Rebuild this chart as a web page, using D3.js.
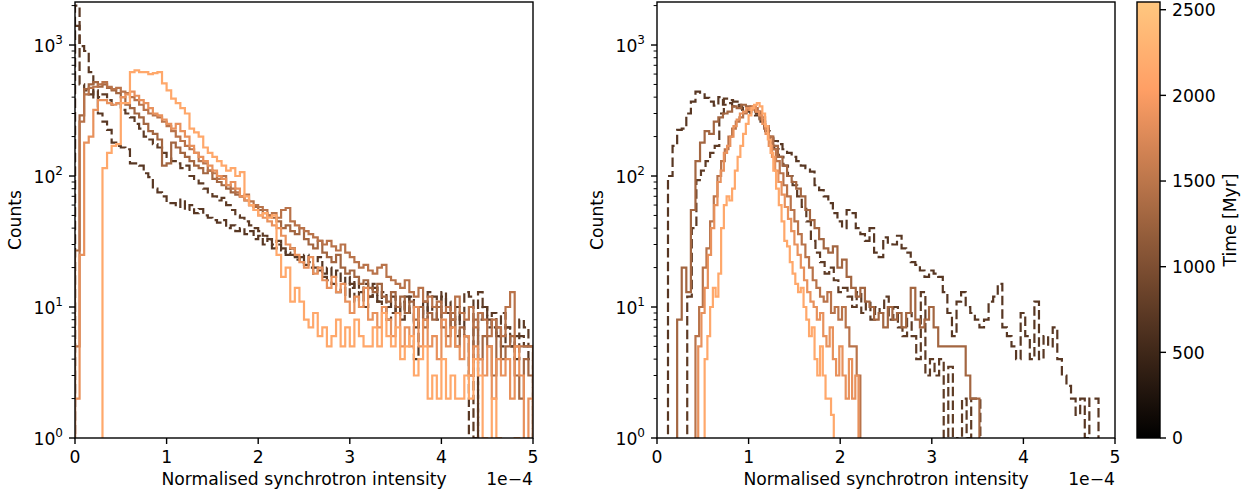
<!DOCTYPE html>
<html>
<head>
<meta charset="utf-8">
<script src="https://cdn.jsdelivr.net/npm/d3@7"></script>
<style>
  body { margin: 0; background: #fff; }
  text { font-family: "DejaVu Sans", sans-serif; fill: #000; }
</style>
</head>
<body>
<svg id="fig" width="1255" height="497"></svg>
<script>
// Intensities are given in units of 1e-4 (the axis shows the offset "1e−4").
const xTicks = [0, 1, 2, 3, 4, 5];
const yTickExps = [0, 1, 2, 3];
const cbarTicks = [0, 500, 1000, 1500, 2000, 2500];
const timeMax = 2545;          // colour-bar upper limit [Myr]
const countMax = 2130;         // upper y limit

// ---------- left panel: all series binned from 0 with width 0.05 ----------
const leftStart = 0;
const leftWidth = 0.05;
const leftTimes  = [700, 750, 1300, 1475, 1850, 2150];
const leftDashed = [true, true, false, false, false, false];

const leftA = [2000, 980, 900, 620, 390, 300, 260, 225, 180, 170,
  165, 160, 125, 125, 120, 105, 98, 80, 75, 70,
  62, 62, 58, 66, 55, 60, 52, 56, 50, 48,
  46, 44, 46, 40, 42, 38, 40, 36, 38, 33,
  35, 30, 33, 28, 30, 27, 25, 28, 24, 22,
  25, 22, 20, 24, 18, 20, 17, 19, 15, 17,
  14, 16, 13, 15, 12, 14, 11, 13, 10, 12,
  9, 11, 9, 12, 4, 8, 11, 9, 10, 8,
  12, 9, 7, 10, 8, 6, 0, 1, 8, 10,
  7, 9, 6, 5, 7, 5, 4, 6, 5, 4];

const leftB = [1400, 500, 450, 420, 450, 400, 420, 380, 350, 360,
  320, 300, 280, 250, 230, 200, 190, 175, 165, 150,
  140, 130, 125, 115, 120, 100, 95, 88, 80, 75,
  70, 65, 68, 60, 55, 50, 48, 45, 42, 40,
  38, 35, 33, 30, 32, 28, 26, 25, 23, 24,
  21, 20, 18, 19, 17, 16, 15, 13, 14, 12,
  15, 11, 13, 10, 12, 15, 11, 10, 8, 9,
  10, 8, 12, 9, 7, 10, 8, 13, 12, 10,
  13, 11, 8, 6, 9, 13, 12, 1, 13, 10,
  8, 7, 6, 9, 7, 5, 6, 8, 7, 5];

const leftC = [27, 290, 460, 500, 520, 480, 500, 470, 450, 430,
  400, 350, 330, 300, 280, 250, 220, 210, 190, 120,
  125, 180, 165, 150, 140, 130, 120, 115, 105, 110,
  95, 90, 85, 80, 75, 72, 70, 65, 60, 58,
  55, 52, 50, 48, 45, 40, 42, 38, 36, 40,
  33, 30, 28, 32, 26, 24, 22, 25, 20, 18,
  19, 17, 15, 16, 14, 13, 15, 12, 11, 13,
  10, 12, 9, 11, 8, 10, 7, 9, 8, 10,
  7, 6, 9, 5, 7, 6, 3, 8, 4, 6,
  5, 3, 7, 4, 5, 6, 3, 2, 4, 3];

const leftD = [5, 260, 420, 470, 480, 500, 520, 480, 460, 470,
  440, 430, 400, 380, 350, 320, 300, 290, 280, 260,
  240, 220, 200, 185, 170, 160, 150, 130, 125, 110,
  105, 95, 100, 85, 80, 75, 70, 72, 64, 60,
  58, 55, 50, 52, 48, 55, 57, 45, 42, 40,
  38, 36, 34, 32, 30, 32, 29, 27, 30, 26,
  24, 22, 20, 21, 19, 18, 20, 21, 17, 16,
  15, 14, 16, 13, 12, 14, 11, 12, 10, 11,
  9, 10, 8, 12, 9, 8, 10, 7, 9, 8,
  6, 8, 7, 6, 10, 13, 5, 5, 5, 5];

const leftE = [2, 25, 180, 200, 320, 380, 380, 360, 350, 360,
  400, 420, 440, 410, 380, 360, 330, 300, 290, 270,
  250, 230, 250, 220, 200, 170, 150, 140, 130, 120,
  110, 100, 95, 85, 90, 80, 70, 65, 60, 55,
  50, 48, 45, 42, 40, 35, 30, 28, 25, 22,
  20, 24, 18, 20, 16, 14, 17, 13, 15, 11,
  9, 12, 10, 14, 8, 9, 7, 10, 8, 6,
  9, 5, 7, 5, 10, 5, 8, 5, 6, 4,
  8, 5, 7, 5, 4, 6, 3, 5, 4, 3,
  5, 2, 4, 3, 4, 2, 5, 3, 0, 2];

const leftF = [0, 0, 0, 0, 0, 0, 115, 150, 170, 175,
  360, 360, 620, 640, 620, 620, 600, 610, 620, 510,
  450, 390, 360, 330, 300, 230, 215, 200, 165, 150,
  140, 130, 120, 110, 115, 100, 107, 70, 60, 55,
  50, 52, 48, 50, 25, 17, 20, 11, 14, 11,
  8, 7, 9, 6, 7, 5, 6, 8, 5, 7,
  5, 8, 6, 5, 5, 7, 5, 9, 6, 5,
  7, 4, 5, 6, 3, 4, 5, 2, 3, 2,
  4, 2, 3, 2, 2, 3, 2, 4, 3, 1,
  0, 2, 1, 0, 0, 0, 1, 0, 0, 0];

// ---------- right panel: each series has its own bin range ----------
const rightTimes  = [700, 750, 1300, 1475, 1850, 2150];
const rightDashed = [true, true, false, false, false, false];
const rightStarts = [0.12, 0.33, 0.22, 0.42, 0.45, 0.52];
const rightWidths = [0.05, 0.05, 0.05, 0.04, 0.035, 0.03];

const rightA = [100, 170, 225, 230, 300, 370, 440, 420, 395, 370,
  345, 400, 350, 360, 340, 350, 330, 320, 300, 290,
  260, 240, 200, 185, 175, 160, 150, 140, 130, 120,
  115, 108, 85, 78, 70, 62, 52, 45, 40, 55,
  52, 40, 36, 32, 40, 26, 24, 34, 31, 30,
  35, 28, 26, 22, 21, 19, 17, 19, 18, 17,
  13, 9, 6, 11, 13, 10, 9, 8, 7, 8,
  11, 12, 15, 7, 6, 5, 4, 9, 6, 4,
  11, 4, 6, 5, 7, 4, 3, 2.5, 2, 1.5,
  2, 1, 2, 2];

const rightB = [12, 40, 93, 110, 130, 150, 170, 300, 390, 380,
  370, 340, 320, 310, 330, 300, 260, 220, 180, 160,
  140, 120, 100, 85, 70, 58, 45, 32, 26, 22,
  18, 20, 16, 13, 14, 12, 10, 13, 9, 11,
  8, 10, 9, 12, 8, 10, 7, 6, 9, 6,
  4, 13, 3, 4, 3, 4, 1, 3.5, 1, 0,
  2, 1, 2, 2];

const rightC = [8, 20, 13, 55, 130, 180, 220, 210, 260, 280,
  300, 310, 340, 330, 350, 340, 330, 310, 270, 230,
  200, 170, 140, 120, 100, 90, 80, 70, 55, 46,
  40, 33, 28, 26, 29, 20, 23, 17, 14, 12,
  14, 11, 10, 8, 9, 7, 10, 8, 9, 7,
  9, 14, 8, 7, 8, 10, 7, 5, 5, 5,
  5, 5, 5, 3, 2, 2];

const rightD = [6, 10, 20, 28, 45, 70, 100, 130, 160, 200,
  230, 260, 280, 300, 320, 340, 330, 310, 280, 240,
  200, 160, 130, 105, 85, 70, 55, 45, 36, 30,
  24, 20, 16, 14, 12, 11, 13, 9, 10, 8,
  10, 7, 5, 5, 3];

const rightE = [5, 9, 14, 25, 40, 60, 90, 110, 150, 170,
  200, 240, 270, 300, 310, 330, 320, 340, 310, 290,
  250, 210, 170, 140, 110, 90, 72, 58, 47, 38,
  30, 25, 20, 16, 13, 11, 10, 8, 9, 6,
  5, 7, 4, 3, 5, 3, 2, 4, 2, 3];

const rightF = [4, 6, 10, 14, 12, 18, 40, 60, 70, 65,
  80, 110, 140, 170, 210, 250, 290, 330, 350, 360,
  340, 300, 240, 190, 150, 110, 80, 60, 45, 32,
  29, 22, 18, 15, 13, 14, 10, 8, 6, 7,
  4, 3, 5, 3, 2, 2, 1.5];

// ---------- assemble series ----------
const leftCounts = [leftA, leftB, leftC, leftD, leftE, leftF];
const rightCounts = [rightA, rightB, rightC, rightD, rightE, rightF];

const leftSeries = leftCounts.map((c, i) => ({
  time: leftTimes[i], dashed: leftDashed[i], start: leftStart, width: leftWidth, counts: c
}));
const rightSeries = rightCounts.map((c, i) => ({
  time: rightTimes[i], dashed: rightDashed[i], start: rightStarts[i], width: rightWidths[i], counts: c
}));

// matplotlib "copper" colormap
function copper(t) {
  const v = Math.max(0, Math.min(1, t / timeMax));
  return d3.rgb(Math.min(1, 1.25 * v) * 255, 0.7812 * v * 255, 0.4975 * v * 255).formatHex();
}

const svg = d3.select('#fig');
const plotTop = 2, plotBottom = 438, plotW = 458;
const y = d3.scaleLog().domain([1, countMax]).range([plotBottom, plotTop]);
const floorCount = 0.2;   // empty bins drop below the visible range
const spineW = 1.4, majorLen = 6, minorLen = 3.4;

function drawPanel(left, series, id) {
  const x = d3.scaleLinear().domain([0, 5]).range([left, left + plotW]);

  svg.append('clipPath').attr('id', 'clip-' + id)
    .append('rect').attr('x', left).attr('y', plotTop)
    .attr('width', plotW).attr('height', plotBottom - plotTop);

  const g = svg.append('g').attr('clip-path', `url(#clip-${id})`);
  const line = d3.line().x(d => x(d[0])).y(d => y(d[1]));

  series.forEach(s => {
    const n = s.counts.length;
    const pts = [[s.start, floorCount]];
    for (let k = 0; k < n; k++) {
      const c = s.counts[k] > 0 ? s.counts[k] : floorCount;
      const e0 = s.start + k * s.width;
      pts.push([e0, c], [e0 + s.width, c]);
    }
    pts.push([s.start + n * s.width, floorCount]);
    g.append('path')
      .attr('d', line(pts))
      .attr('fill', 'none')
      .attr('stroke', copper(s.time))
      .attr('stroke-width', 2.2)
      .attr('stroke-linejoin', 'miter')
      .attr('stroke-dasharray', s.dashed ? '9.5,4.1' : null);
  });

  // x ticks
  const ax = svg.append('g');
  xTicks.forEach(t => {
    ax.append('line').attr('x1', x(t)).attr('x2', x(t))
      .attr('y1', plotBottom).attr('y2', plotBottom + majorLen)
      .attr('stroke', '#000').attr('stroke-width', spineW);
    ax.append('text').attr('x', x(t)).attr('y', plotBottom + 25)
      .attr('text-anchor', 'middle').attr('font-size', 17.2).text(t);
  });
  ax.append('text').attr('x', left + plotW).attr('y', 485)
    .attr('text-anchor', 'end').attr('font-size', 17.2).text('1e\u22124');
  ax.append('text').attr('x', left + plotW / 2).attr('y', 485)
    .attr('text-anchor', 'middle').attr('font-size', 17.2)
    .text('Normalised synchrotron intensity');

  // y ticks (log)
  yTickExps.forEach(e => {
    const v = Math.pow(10, e);
    ax.append('line').attr('x1', left - majorLen).attr('x2', left)
      .attr('y1', y(v)).attr('y2', y(v))
      .attr('stroke', '#000').attr('stroke-width', spineW);
    const tx = ax.append('text').attr('x', left - 12).attr('y', y(v) + 7)
      .attr('text-anchor', 'end').attr('font-size', 17.2);
    tx.append('tspan').text('10');
    tx.append('tspan').attr('dy', -8).attr('font-size', 12).text(String(e));
    for (let m = 2; m <= 9; m++) {
      const mv = m * v;
      if (mv > countMax) break;
      ax.append('line').attr('x1', left - minorLen).attr('x2', left)
        .attr('y1', y(mv)).attr('y2', y(mv))
        .attr('stroke', '#000').attr('stroke-width', 1.0);
    }
  });
  ax.append('text')
    .attr('transform', `translate(${left - 54},${(plotTop + plotBottom) / 2}) rotate(-90)`)
    .attr('text-anchor', 'middle').attr('font-size', 17.2).text('Counts');

  // frame
  svg.append('rect').attr('x', left).attr('y', plotTop)
    .attr('width', plotW).attr('height', plotBottom - plotTop)
    .attr('fill', 'none').attr('stroke', '#000').attr('stroke-width', spineW);
}

drawPanel(75, leftSeries, 'left');
drawPanel(657, rightSeries, 'right');

// ---------- colour bar ----------
const cbX = 1137, cbW = 23;
const cy = d3.scaleLinear().domain([0, timeMax]).range([plotBottom, plotTop]);
const grad = svg.append('defs').append('linearGradient').attr('id', 'copperGrad')
  .attr('x1', 0).attr('y1', 1).attr('x2', 0).attr('y2', 0);
d3.range(0, 1.0001, 0.05).forEach(o => {
  grad.append('stop').attr('offset', o).attr('stop-color', copper(o * timeMax));
});
svg.append('rect').attr('x', cbX).attr('y', plotTop).attr('width', cbW)
  .attr('height', plotBottom - plotTop).attr('fill', 'url(#copperGrad)');
svg.append('rect').attr('x', cbX).attr('y', plotTop).attr('width', cbW)
  .attr('height', plotBottom - plotTop).attr('fill', 'none')
  .attr('stroke', '#000').attr('stroke-width', spineW);
cbarTicks.forEach(t => {
  svg.append('line').attr('x1', cbX + cbW).attr('x2', cbX + cbW + majorLen)
    .attr('y1', cy(t)).attr('y2', cy(t)).attr('stroke', '#000').attr('stroke-width', spineW);
  svg.append('text').attr('x', cbX + cbW + 12).attr('y', cy(t) + 6.2)
    .attr('font-size', 17.2).text(t);
});
svg.append('text')
  .attr('transform', `translate(1236,${(plotTop + plotBottom) / 2}) rotate(-90)`)
  .attr('text-anchor', 'middle').attr('font-size', 17.2).text('Time [Myr]');
</script>
</body>
</html>
